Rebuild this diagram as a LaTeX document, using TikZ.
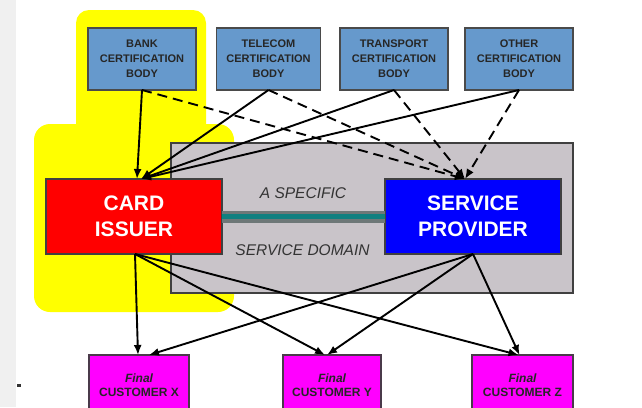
\documentclass[tikz,border=0pt]{standalone}
\usepackage{fontspec}
\setmainfont{Liberation Sans}
\usetikzlibrary{arrows.meta}
\definecolor{certfill}{HTML}{6699CC}
\definecolor{certline}{HTML}{4A4A4A}
\definecolor{domfill}{HTML}{C9C4C9}
\definecolor{domline}{HTML}{404040}
\definecolor{hilite}{HTML}{FFFF00}
\definecolor{strip}{HTML}{F0F0F0}
\definecolor{barout}{HTML}{6E7878}
\definecolor{barin}{HTML}{108080}
\definecolor{custfill}{HTML}{FF00FF}
\definecolor{custline}{HTML}{4A3A4A}
\tikzset{
  certbox/.style={draw=certline, fill=certfill, line width=1.5pt, inner sep=0pt, outer sep=0pt,
    align=center, text=black!85, font=\bfseries\fontsize{11}{15}\selectfont,
    minimum height=62pt},
  actorbox/.style={draw=black!75, line width=1.5pt, inner sep=0pt, outer sep=0pt,
    align=center, text=white, font=\bfseries\fontsize{21}{26}\selectfont,
    minimum width=176pt, minimum height=75pt},
  custbox/.style={draw=custline, fill=custfill, line width=1.2pt, inner sep=0pt, outer sep=0pt,
    align=center, text=black!85, font=\bfseries\fontsize{12}{14}\selectfont,
    minimum height=60pt},
  domlabel/.style={text=black!80, font=\itshape\fontsize{15.5}{18}\selectfont, inner sep=0pt},
  solidarrow/.style={line width=1.9pt, -{Latex[length=10pt,width=8pt]}},
  dasharrow/.style={line width=1.9pt, dash pattern=on 10pt off 6pt, -{Latex[length=10pt,width=8pt]}},
}
\begin{document}
\begin{tikzpicture}[x=1pt,y=-1pt]
\useasboundingbox (0,0) rectangle (642,407);
\clip (0,0) rectangle (642,407);
\fill[white] (0,0) rectangle (642,407);
\fill[strip] (0,0) rectangle (16,407);
\fill[black!80] (17,384) rectangle (21,387);
% yellow highlight
\fill[hilite, rounded corners=13pt] (76,10) rectangle (206,145);
\fill[hilite, rounded corners=16pt] (34,124) rectangle (234,312);
% service domain
\node[draw=domline, fill=domfill, line width=2pt, minimum width=402pt, minimum height=150pt, inner sep=0pt] (dom) at (372,218) {};
% certification bodies
\node[certbox, minimum width=108pt] (bank) at (142,59) {BANK\\CERTIFICATION\\BODY};
\node[certbox, minimum width=104pt] (tel) at (268.5,59) {TELECOM\\CERTIFICATION\\BODY};
\node[certbox, minimum width=108pt] (trn) at (394,59) {TRANSPORT\\CERTIFICATION\\BODY};
\node[certbox, minimum width=108pt] (oth) at (519,59) {OTHER\\CERTIFICATION\\BODY};
% actors
\node[actorbox, fill=red] (ci) at (134,216.5) {CARD\\ISSUER};
\node[actorbox, fill=blue] (sp) at (473,216.5) {SERVICE\\PROVIDER};
% link bar
\draw[barout, line width=12pt] (ci.east) -- (sp.west);
\draw[barin, line width=5pt] (ci.east) -- (sp.west);
\node[domlabel] (lab1) at (303,193) {A SPECIFIC};
\node[domlabel] (lab2) at (302.5,250) {SERVICE DOMAIN};
% customers
\node[custbox, minimum width=100pt] (cx) at (139,385) {\itshape Final\\CUSTOMER X};
\node[custbox, minimum width=98pt] (cy) at (332,385) {\itshape Final\\CUSTOMER Y};
\node[custbox, minimum width=101pt] (cz) at (522.5,385) {\itshape Final\\CUSTOMER Z};
% arrows from certification bodies
\draw[solidarrow] (bank.south) -- ([xshift=3pt]ci.north);
\draw[solidarrow] (tel.south) -- ([xshift=7pt]ci.north);
\draw[solidarrow] (trn.south) -- ([xshift=7pt]ci.north);
\draw[solidarrow] (oth.south) -- ([xshift=7pt]ci.north);
\draw[dasharrow] (bank.south) -- ([xshift=-8pt]sp.north);
\draw[dasharrow] (tel.south) -- ([xshift=-8pt]sp.north);
\draw[dasharrow] (trn.south) -- ([xshift=-8pt]sp.north);
\draw[dasharrow] (oth.south) -- ([xshift=-8pt]sp.north);
% arrows to customers
\draw[solidarrow] ([xshift=1pt]ci.south) -- ([xshift=-1pt]cx.north);
\draw[solidarrow] ([xshift=1pt]ci.south) -- ([xshift=-7pt]cy.north);
\draw[solidarrow] ([xshift=1pt]ci.south) -- ([xshift=-4pt]cz.north);
\draw[solidarrow] (sp.south) -- ([xshift=10pt]cx.north);
\draw[solidarrow] (sp.south) -- ([xshift=-5pt]cy.north);
\draw[solidarrow] (sp.south) -- ([xshift=-3pt]cz.north);
\end{tikzpicture}
\end{document}
